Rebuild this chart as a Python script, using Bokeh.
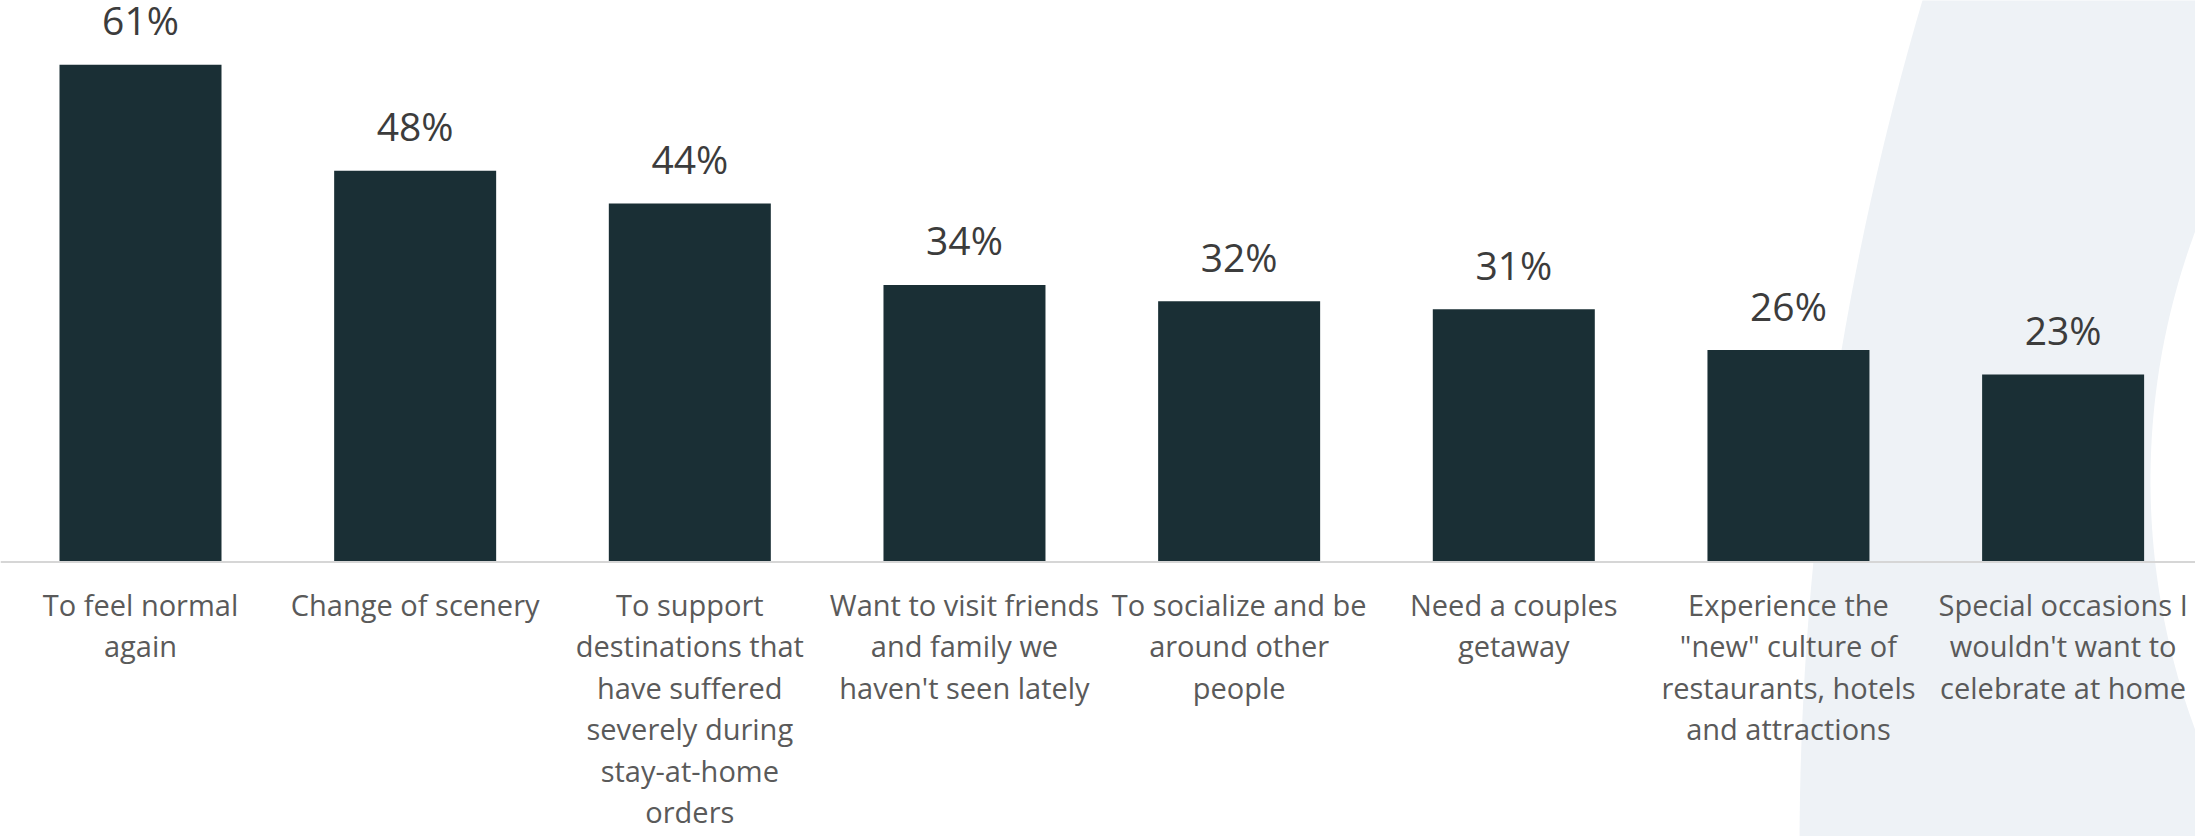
import numpy as np
from bokeh.plotting import figure
from bokeh.models import Range1d, Span, ColumnDataSource
from bokeh.embed import file_html
from bokeh.resources import INLINE
from bokeh.core.properties import value

categories = [
    "To feel normal again",
    "Change of scenery",
    "To support destinations that have suffered severely during stay-at-home orders",
    "Want to visit friends and family we haven't seen lately",
    "To socialize and be around other people",
    "Need a couples getaway",
    "Experience the \"new\" culture of restaurants, hotels and attractions",
    "Special occasions I wouldn't want to celebrate at home",
]
tick_labels = [
    "To feel normal\nagain",
    "Change of scenery",
    "To support\ndestinations that\nhave suffered\nseverely during\nstay-at-home\norders",
    "Want to visit friends\nand family we\nhaven't seen lately",
    "To socialize and be\naround other\npeople",
    "Need a couples\ngetaway",
    "Experience the\n\"new\" culture of\nrestaurants, hotels\nand attractions",
    "Special occasions I\nwouldn't want to\ncelebrate at home",
]
values = [61, 48, 44, 34, 32, 31, 26, 23]

W, H = 2195, 836
STEP = 274.66          # px per category
PXU = 8.15             # px per percentage point
X0 = -140 / STEP
X1 = X0 + W / STEP
Y1 = 561.5 / PXU
Y0 = Y1 - H / PXU

def dx(px):  # picture px -> data x
    return X0 + np.asarray(px) / STEP

def dy(py):  # picture px -> data y
    return Y1 - np.asarray(py) / PXU

p = figure(width=W, height=H, output_backend="svg", toolbar_location=None,
           x_range=Range1d(X0, X1), y_range=Range1d(Y0, Y1),
           min_border=0, outline_line_color=None, background_fill_color="white",
           border_fill_color="white")
p.axis.visible = False
p.grid.visible = False

# decorative background shapes (big pale disc with a white disc cut in at the edge)
t = np.linspace(0, 2 * np.pi, 721)
def disc(cx, cy, r, color):
    p.patch(x=dx(cx + r * np.cos(t)), y=dy(cy + r * np.sin(t)),
            fill_color=color, line_color=None)
disc(4799, 850, 3000, "#eef2f6")
disc(2867, 480, 717, "white")

idx = list(range(len(values)))
src = ColumnDataSource(dict(
    x=idx, top=values,
    lab=[f"{v}%" for v in values],
    ly=[v + 45 / PXU for v in values],
    cat=tick_labels,
    cy=[-23 / PXU] * len(values),
))

p.vbar(x="x", top="top", bottom=0, width=162 / STEP, source=src,
       fill_color="#1a2f35", line_color=None)

p.add_layout(Span(location=0, dimension="width", line_color="#d6d6d6", line_width=2))

p.text(x="x", y="ly", text="lab", source=src, text_align="center",
       text_baseline="alphabetic", text_font=value("Open Sans"),
       text_font_size="39px", text_color="#3c3c3c")

p.text(x="x", y="cy", text="cat", source=src, text_align="center",
       text_baseline="top", text_font=value("Open Sans"),
       text_font_size="29px", text_color="#5a5a5a", text_line_height=1.063)

open("out.html", "w").write(file_html(p, INLINE))
